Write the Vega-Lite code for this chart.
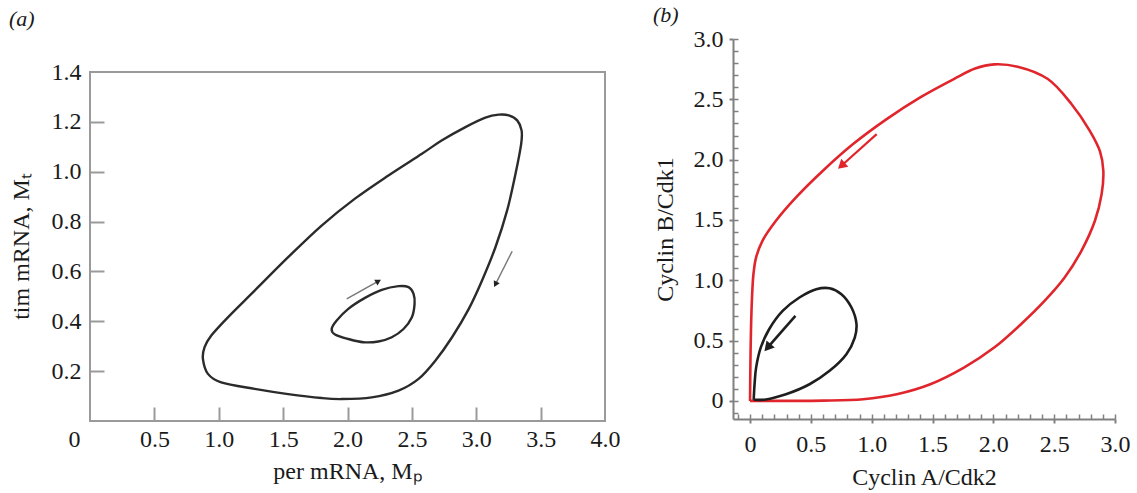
{
  "$schema": "https://vega.github.io/schema/vega-lite/v6.json",
  "padding": {"left": 9, "top": 4, "right": 4, "bottom": 4},
  "spacing": 33,
  "config": {
    "font": "Liberation Serif",
    "axis": {"labelFont": "Liberation Serif", "titleFont": "Liberation Serif", "labelFontSize": 24, "titleFontSize": 24, "titleFontWeight": "normal", "labelColor": "#1a1a1a", "titleColor": "#1a1a1a", "grid": false, "labelOverlap": false, "labelFlush": false},
    "title": {"font": "Liberation Serif", "fontSize": 22, "fontStyle": "italic", "fontWeight": "normal", "anchor": "start", "frame": "bounds", "color": "#1a1a1a"}
  },
  "datasets": {
    "frame": [{"panel": "a"}],
    "a_outer": [
      {"i": 0, "x": 0.877, "y": 0.249}, {"i": 1, "x": 0.916, "y": 0.189}, {"i": 2, "x": 1.019, "y": 0.155}, {"i": 3, "x": 1.279, "y": 0.129},
      {"i": 4, "x": 1.539, "y": 0.108}, {"i": 5, "x": 1.799, "y": 0.092}, {"i": 6, "x": 1.955, "y": 0.088}, {"i": 7, "x": 2.188, "y": 0.095},
      {"i": 8, "x": 2.396, "y": 0.122}, {"i": 9, "x": 2.552, "y": 0.169}, {"i": 10, "x": 2.682, "y": 0.242}, {"i": 11, "x": 2.812, "y": 0.336},
      {"i": 12, "x": 2.942, "y": 0.45}, {"i": 13, "x": 3.045, "y": 0.564}, {"i": 14, "x": 3.149, "y": 0.697}, {"i": 15, "x": 3.24, "y": 0.845},
      {"i": 16, "x": 3.305, "y": 0.992}, {"i": 17, "x": 3.349, "y": 1.112}, {"i": 18, "x": 3.352, "y": 1.166}, {"i": 19, "x": 3.318, "y": 1.206},
      {"i": 20, "x": 3.253, "y": 1.226}, {"i": 21, "x": 3.175, "y": 1.229}, {"i": 22, "x": 3.071, "y": 1.217}, {"i": 23, "x": 2.916, "y": 1.179},
      {"i": 24, "x": 2.734, "y": 1.126}, {"i": 25, "x": 2.578, "y": 1.072}, {"i": 26, "x": 2.318, "y": 0.985}, {"i": 27, "x": 2.058, "y": 0.892},
      {"i": 28, "x": 1.799, "y": 0.784}, {"i": 29, "x": 1.539, "y": 0.657}, {"i": 30, "x": 1.279, "y": 0.523}, {"i": 31, "x": 1.071, "y": 0.416},
      {"i": 32, "x": 0.942, "y": 0.343}, {"i": 33, "x": 0.89, "y": 0.296}
    ],
    "a_inner": [
      {"i": 0, "x": 1.877, "y": 0.369}, {"i": 1, "x": 1.916, "y": 0.403}, {"i": 2, "x": 2.006, "y": 0.45}, {"i": 3, "x": 2.136, "y": 0.494},
      {"i": 4, "x": 2.266, "y": 0.526}, {"i": 5, "x": 2.396, "y": 0.541}, {"i": 6, "x": 2.474, "y": 0.537}, {"i": 7, "x": 2.513, "y": 0.51},
      {"i": 8, "x": 2.521, "y": 0.47}, {"i": 9, "x": 2.5, "y": 0.416}, {"i": 10, "x": 2.435, "y": 0.369}, {"i": 11, "x": 2.344, "y": 0.336},
      {"i": 12, "x": 2.24, "y": 0.319}, {"i": 13, "x": 2.123, "y": 0.316}, {"i": 14, "x": 2.006, "y": 0.329}, {"i": 15, "x": 1.903, "y": 0.347}
    ],
    "a_arrows": [
      {"id": "inner", "x": 1.994, "y": 0.49, "x2": 2.24, "y2": 0.561},
      {"id": "outer", "x": 3.279, "y": 0.681, "x2": 3.149, "y2": 0.548}
    ],
    "b_red": [
      {"i": 0, "x": 0.0, "y": 0.0}, {"i": 1, "x": 0.003, "y": 0.3}, {"i": 2, "x": 0.008, "y": 0.6}, {"i": 3, "x": 0.016, "y": 0.85},
      {"i": 4, "x": 0.028, "y": 1.05}, {"i": 5, "x": 0.05, "y": 1.19}, {"i": 6, "x": 0.102, "y": 1.327}, {"i": 7, "x": 0.213, "y": 1.493},
      {"i": 8, "x": 0.378, "y": 1.687}, {"i": 9, "x": 0.599, "y": 1.908}, {"i": 10, "x": 0.847, "y": 2.129}, {"i": 11, "x": 1.123, "y": 2.336},
      {"i": 12, "x": 1.399, "y": 2.516}, {"i": 13, "x": 1.675, "y": 2.668}, {"i": 14, "x": 1.85, "y": 2.755}, {"i": 15, "x": 2.007, "y": 2.79},
      {"i": 16, "x": 2.2, "y": 2.77}, {"i": 17, "x": 2.448, "y": 2.668}, {"i": 18, "x": 2.642, "y": 2.461}, {"i": 19, "x": 2.793, "y": 2.239},
      {"i": 20, "x": 2.876, "y": 2.07}, {"i": 21, "x": 2.904, "y": 1.908}, {"i": 22, "x": 2.89, "y": 1.714}, {"i": 23, "x": 2.835, "y": 1.493},
      {"i": 24, "x": 2.724, "y": 1.244}, {"i": 25, "x": 2.586, "y": 1.023}, {"i": 26, "x": 2.421, "y": 0.829}, {"i": 27, "x": 2.227, "y": 0.636},
      {"i": 28, "x": 2.007, "y": 0.442}, {"i": 29, "x": 1.758, "y": 0.276}, {"i": 30, "x": 1.482, "y": 0.138}, {"i": 31, "x": 1.206, "y": 0.055},
      {"i": 32, "x": 0.93, "y": 0.014}, {"i": 33, "x": 0.6, "y": 0.002}, {"i": 34, "x": 0.3, "y": 0.0}, {"i": 35, "x": 0.0, "y": 0.0}
    ],
    "b_black": [
      {"i": 0, "x": 0.03, "y": 0.01}, {"i": 1, "x": 0.038, "y": 0.15}, {"i": 2, "x": 0.05, "y": 0.276}, {"i": 3, "x": 0.088, "y": 0.442},
      {"i": 4, "x": 0.157, "y": 0.594}, {"i": 5, "x": 0.268, "y": 0.746}, {"i": 6, "x": 0.406, "y": 0.857}, {"i": 7, "x": 0.544, "y": 0.926},
      {"i": 8, "x": 0.654, "y": 0.934}, {"i": 9, "x": 0.751, "y": 0.885}, {"i": 10, "x": 0.834, "y": 0.774}, {"i": 11, "x": 0.875, "y": 0.636},
      {"i": 12, "x": 0.861, "y": 0.525}, {"i": 13, "x": 0.792, "y": 0.387}, {"i": 14, "x": 0.654, "y": 0.249}, {"i": 15, "x": 0.489, "y": 0.138},
      {"i": 16, "x": 0.295, "y": 0.055}, {"i": 17, "x": 0.13, "y": 0.012}, {"i": 18, "x": 0.03, "y": 0.01}
    ],
    "b_arrows": [
      {"id": "red", "x": 1.041, "y": 2.212, "x2": 0.751, "y2": 1.949},
      {"id": "black", "x": 0.373, "y": 0.705, "x2": 0.144, "y2": 0.442}
    ]
  },
  "hconcat": [
    {
      "width": 515,
      "height": 382,
      "title": {"text": "(a)", "offset": 8},
      "view": {"stroke": null},
      "layer": [
        {
          "data": {"name": "frame"},
          "mark": {"type": "rect", "fillOpacity": 0, "stroke": "#9a9a9a", "strokeWidth": 2},
          "encoding": {
            "x": {"datum": 0, "type": "quantitative", "scale": {"domain": [0, 4], "nice": false},
              "axis": {"values": [0, 0.5, 1, 1.5, 2, 2.5, 3, 3.5, 4], "title": "per mRNA, Mₚ", "domain": false,
                "tickSize": -14, "tickWidth": 2, "tickColor": "#9a9a9a",
                "tickOpacity": {"condition": {"test": "datum.value <= 0 || datum.value >= 4", "value": 0}, "value": 1},
                "labelOffset": {"condition": {"test": "datum.value == 0", "value": -16}, "value": 0},
                "labelExpr": "datum.value == 0 ? '0' : format(datum.value, '.1f')",
                "labelPadding": 20, "titlePadding": 8}},
            "x2": {"datum": 4},
            "y": {"datum": 0, "type": "quantitative", "scale": {"domain": [0, 1.5324], "nice": false},
              "axis": {"values": [0.2, 0.4, 0.6, 0.8, 1.0, 1.2, 1.4], "title": "tim mRNA, Mₜ", "domain": false,
                "tickSize": -14, "tickWidth": 2, "tickColor": "#9a9a9a",
                "tickOpacity": {"condition": {"test": "datum.value >= 1.3", "value": 0}, "value": 1},
                "labelExpr": "format(datum.value, '.1f')",
                "labelPadding": 23, "titlePadding": 18, "titleY": 207}},
            "y2": {"datum": 1.4}
          }
        },
        {
          "data": {"name": "a_outer"},
          "mark": {"type": "line", "interpolate": "cardinal-closed", "color": "#2b2b2b", "strokeWidth": 2.4},
          "encoding": {
            "x": {"field": "x", "type": "quantitative"},
            "y": {"field": "y", "type": "quantitative"},
            "order": {"field": "i"}
          }
        },
        {
          "data": {"name": "a_inner"},
          "mark": {"type": "line", "interpolate": "cardinal-closed", "color": "#2b2b2b", "strokeWidth": 2.4},
          "encoding": {
            "x": {"field": "x", "type": "quantitative"},
            "y": {"field": "y", "type": "quantitative"},
            "order": {"field": "i"}
          }
        },
        {
          "data": {"name": "a_arrows"},
          "mark": {"type": "rule", "color": "#777777", "strokeWidth": 1.4},
          "encoding": {
            "x": {"field": "x", "type": "quantitative"},
            "y": {"field": "y", "type": "quantitative"},
            "x2": {"field": "x2"},
            "y2": {"field": "y2"}
          }
        },
        {
          "data": {"name": "a_arrows"},
          "transform": [{"filter": "datum.id == 'inner'"}],
          "mark": {"type": "point", "shape": "triangle-up", "filled": true, "color": "#222222", "size": 45, "angle": 61, "opacity": 1},
          "encoding": {
            "x": {"field": "x2", "type": "quantitative"},
            "y": {"field": "y2", "type": "quantitative"}
          }
        },
        {
          "data": {"name": "a_arrows"},
          "transform": [{"filter": "datum.id == 'outer'"}],
          "mark": {"type": "point", "shape": "triangle-up", "filled": true, "color": "#222222", "size": 45, "angle": 207, "opacity": 1},
          "encoding": {
            "x": {"field": "x2", "type": "quantitative"},
            "y": {"field": "y2", "type": "quantitative"}
          }
        }
      ]
    },
    {
      "width": 382,
      "height": 380,
      "title": {"text": "(b)", "offset": 0},
      "view": {"stroke": null},
      "resolve": {"axis": {"x": "independent", "y": "independent"}},
      "layer": [
        {
          "data": {"name": "b_red"},
          "mark": {"type": "line", "interpolate": "catmull-rom", "color": "#e0262c", "strokeWidth": 2.6},
          "encoding": {
            "x": {"field": "x", "type": "quantitative", "scale": {"domain": [-0.14, 3.0], "nice": false},
              "axis": {"orient": "bottom", "values": [0, 0.5, 1, 1.5, 2, 2.5, 3], "title": "Cyclin A/Cdk2",
                "domainColor": "#808080", "domainWidth": 2, "tickSize": 4, "tickWidth": 2, "tickColor": "#808080",
                "labelExpr": "datum.value == 0 ? '0' : format(datum.value, '.1f')",
                "labelPadding": 9, "titlePadding": 9}},
            "y": {"field": "y", "type": "quantitative", "scale": {"domain": [-0.15, 3.0], "nice": false},
              "axis": {"orient": "left", "values": [0, 0.5, 1, 1.5, 2, 2.5, 3], "title": "Cyclin B/Cdk1",
                "domainColor": "#808080", "domainWidth": 2, "tickSize": 4, "tickWidth": 2, "tickColor": "#808080",
                "labelExpr": "datum.value == 0 ? '0' : format(datum.value, '.1f')",
                "labelPadding": 6, "titlePadding": 16}},
            "order": {"field": "i"}
          }
        },
        {
          "data": {"name": "b_black"},
          "mark": {"type": "line", "interpolate": "catmull-rom", "color": "#1e1e1e", "strokeWidth": 2.6},
          "encoding": {
            "x": {"field": "x", "type": "quantitative", "scale": {"domain": [-0.14, 3.0], "nice": false},
              "axis": {"orient": "bottom", "values": [-0.1, 0, 0.1, 0.2, 0.3, 0.4, 0.5, 0.6, 0.7, 0.8, 0.9, 1, 1.1, 1.2, 1.3, 1.4, 1.5, 1.6, 1.7, 1.8, 1.9, 2, 2.1, 2.2, 2.3, 2.4, 2.5, 2.6, 2.7, 2.8, 2.9, 3],
                "title": null, "labels": false, "domain": false, "tickSize": -5, "tickWidth": 1.5, "tickColor": "#808080"}},
            "y": {"field": "y", "type": "quantitative", "scale": {"domain": [-0.15, 3.0], "nice": false},
              "axis": {"orient": "left", "values": [-0.1, 0, 0.1, 0.2, 0.3, 0.4, 0.5, 0.6, 0.7, 0.8, 0.9, 1, 1.1, 1.2, 1.3, 1.4, 1.5, 1.6, 1.7, 1.8, 1.9, 2, 2.1, 2.2, 2.3, 2.4, 2.5, 2.6, 2.7, 2.8, 2.9, 3],
                "title": null, "labels": false, "domain": false, "tickSize": -5, "tickWidth": 1.5, "tickColor": "#808080"}},
            "order": {"field": "i"}
          }
        },
        {
          "data": {"name": "b_arrows"},
          "transform": [{"filter": "datum.id == 'red'"}],
          "layer": [
            {
              "mark": {"type": "rule", "color": "#e0262c", "strokeWidth": 2.2},
              "encoding": {
                "x": {"field": "x", "type": "quantitative", "axis": null},
                "y": {"field": "y", "type": "quantitative", "axis": null},
                "x2": {"field": "x2"},
                "y2": {"field": "y2"}
              }
            },
            {
              "mark": {"type": "point", "shape": "triangle-up", "filled": true, "color": "#e0262c", "size": 110, "angle": 228, "opacity": 1},
              "encoding": {
                "x": {"field": "x2", "type": "quantitative", "axis": null},
                "y": {"field": "y2", "type": "quantitative", "axis": null}
              }
            }
          ]
        },
        {
          "data": {"name": "b_arrows"},
          "transform": [{"filter": "datum.id == 'black'"}],
          "layer": [
            {
              "mark": {"type": "rule", "color": "#1e1e1e", "strokeWidth": 2.6},
              "encoding": {
                "x": {"field": "x", "type": "quantitative", "axis": null},
                "y": {"field": "y", "type": "quantitative", "axis": null},
                "x2": {"field": "x2"},
                "y2": {"field": "y2"}
              }
            },
            {
              "mark": {"type": "point", "shape": "triangle-up", "filled": true, "color": "#1e1e1e", "size": 120, "angle": 221, "opacity": 1},
              "encoding": {
                "x": {"field": "x2", "type": "quantitative", "axis": null},
                "y": {"field": "y2", "type": "quantitative", "axis": null}
              }
            }
          ]
        }
      ]
    }
  ]
}
